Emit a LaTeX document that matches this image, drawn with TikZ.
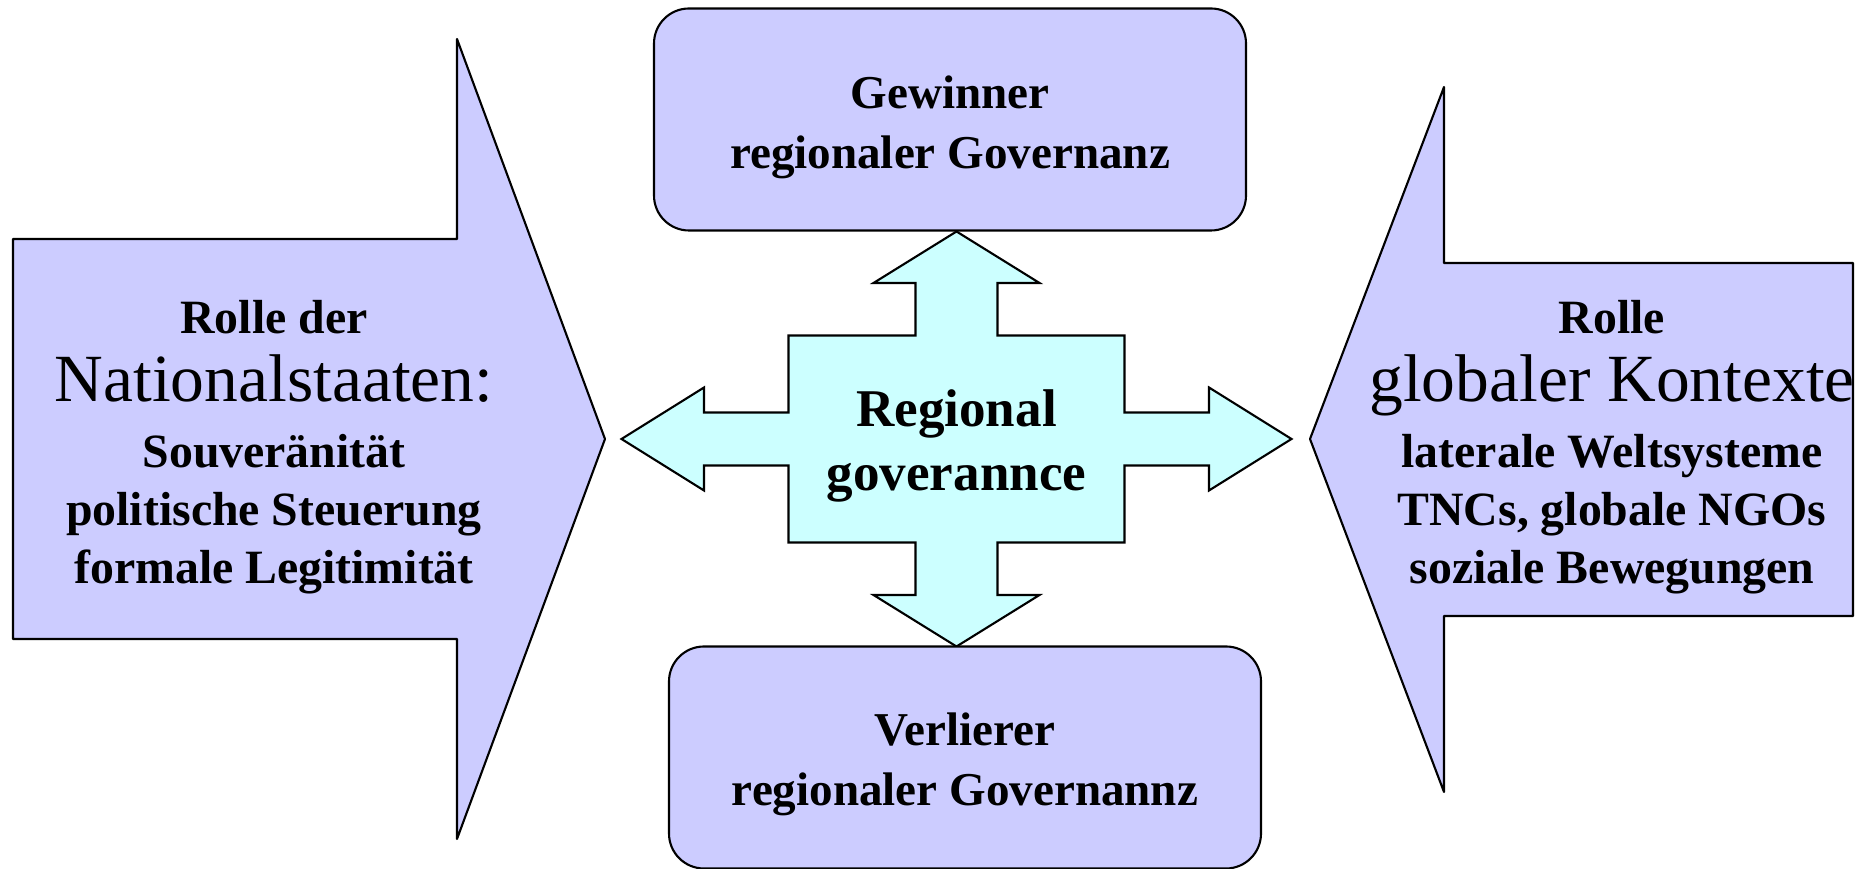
\documentclass[tikz,border=0pt]{standalone}
\usepackage{fontspec}
\setmainfont{Liberation Serif}
\usepackage{tkz-euclide}
\definecolor{lavender}{RGB}{204,204,255}
\definecolor{palecyan}{RGB}{204,255,255}
\newcommand{\bigword}[1]{{\fontsize{19.2}{22}\selectfont\mdseries #1}}

\begin{document}
\begin{tikzpicture}[
  box/.style={draw,line width=.6pt,fill=lavender,rounded corners=.35cm,
    minimum width=5.92cm,minimum height=2.22cm},
  boxtxt/.style={align=center,font=\fontsize{13.4}{17}\selectfont\bfseries},
  txt/.style={align=center,font=\fontsize{13.6}{16.4}\selectfont\bfseries},
  mid/.style={align=center,font=\fontsize{15.1}{18}\selectfont\bfseries}]
  \useasboundingbox (0,0) rectangle (18.67,8.69);
  \tkzSetUpLine[line width=.6pt]
  \tkzDefPoints{0.13/6.30/A,4.57/6.30/B,4.57/8.30/C,6.05/4.30/D,
    4.57/0.30/E,4.57/2.30/F,0.13/2.30/G}
  \tkzDrawPolygon[fill=lavender](A,B,C,D,E,F,G)
  \tkzDefPoints{18.53/6.06/P,14.44/6.06/Q,14.44/7.82/R,13.10/4.30/S,
    14.44/0.77/T,14.44/2.53/U,18.53/2.53/V}
  \tkzDrawPolygon[fill=lavender](P,Q,R,S,T,U,V)
  % the cross in the middle
  \tkzDefPoints{9.565/6.375/n,12.915/4.30/e,9.565/2.225/s,6.215/4.30/w}
  \draw[line width=.6pt,fill=palecyan] (n) -- ++(.83,-.515) -- ++(-.42,0)
    -- ++(0,-.525) -- ++(1.27,0) -- ++(0,-.77) -- ++(.845,0) -- ++(0,.25)
    -- (e) -- ++(-.825,-.515) -- ++(0,.25) -- ++(-.845,0) -- ++(0,-.77)
    -- ++(-1.27,0) -- ++(0,-.525) -- ++(.42,0)
    -- (s) -- ++(-.83,.515) -- ++(.42,0) -- ++(0,.525) -- ++(-1.27,0)
    -- ++(0,.77) -- ++(-.845,0) -- ++(0,-.25)
    -- (w) -- ++(.825,.515) -- ++(0,-.25) -- ++(.845,0) -- ++(0,.77)
    -- ++(1.27,0) -- ++(0,.525) -- ++(-.42,0) -- cycle;
  \node[mid] (reg) at (9.565,4.23) {Regional\\goverannce};
  \node[box] (win) at (9.50,7.495) {};
  \node[boxtxt] (wintxt) at ([yshift=-.08cm]win.center) {Gewinner\\regionaler Governanz};
  \node[box] (los) at (9.65,1.115) {};
  \node[boxtxt] (lostxt) at ([yshift=-.07cm]los.center) {Verlierer\\regionaler Governannz};
  \node[txt] (nat) at (2.74,4.22) {Rolle der\\[3pt]\bigword{Nationalstaaten:}\\[2.5pt]
    Souveränität\\politische Steuerung\\formale Legitimität};
  \node[txt] (glob) at (16.12,4.22) {Rolle\\[3pt]\bigword{globaler Kontexte}\\[2.5pt]
    laterale Weltsysteme\\TNCs, globale NGOs\\soziale Bewegungen};
\end{tikzpicture}
\end{document}
